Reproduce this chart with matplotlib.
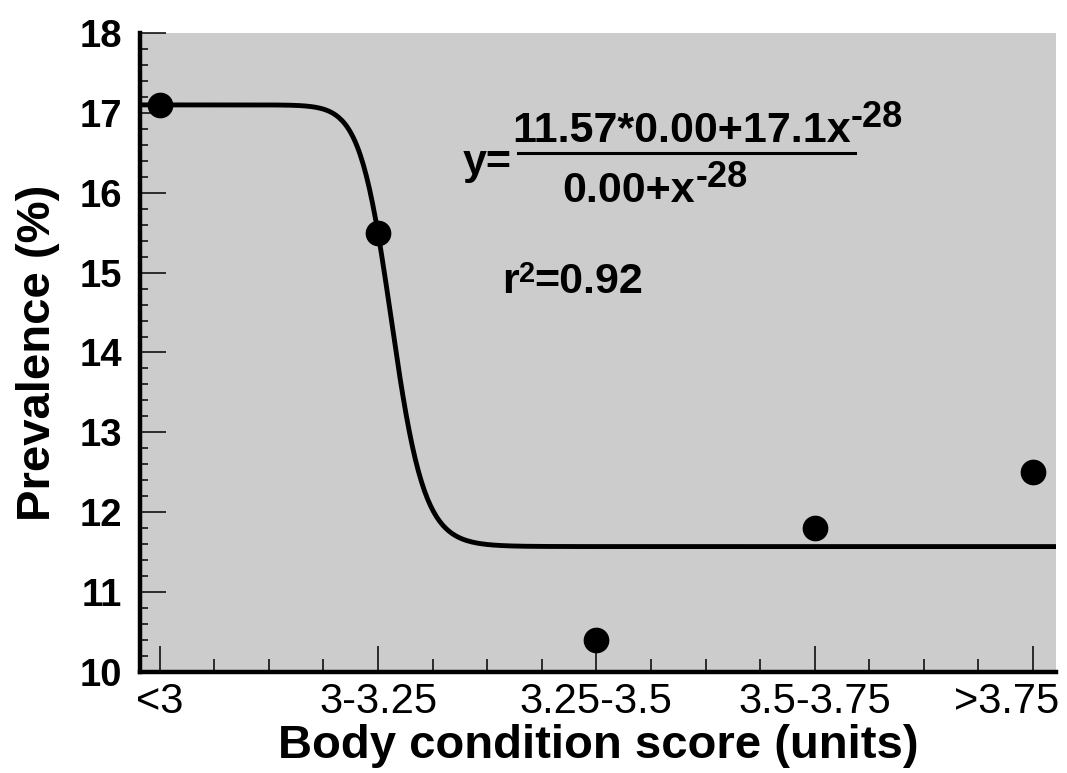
import numpy as np
import matplotlib.pyplot as plt
from matplotlib.ticker import MultipleLocator
from matplotlib.transforms import ScaledTranslation

plt.rcParams['font.family'] = ['Liberation Sans', 'DejaVu Sans']

# dados
categorias = ['<3', '3-3.25', '3.25-3.5', '3.5-3.75', '>3.75']
prevalencia = [17.1, 15.5, 10.4, 11.8, 12.5]

# parâmetros do ajuste (equação mostrada no gráfico)
base = 11.57
topo = 17.1
expoente = -28
meio = 2.065  # posição onde a curva passa pela metade

posicoes = np.arange(1, len(categorias) + 1)

fig = plt.figure(figsize=(10.67, 7.73), dpi=100)
ax = fig.add_axes([0.1312, 0.1307, 0.8585, 0.8266])
ax.set_facecolor('#cccccc')

# curva ajustada
k = meio ** expoente
xs = np.linspace(0.91, 5.105, 600)
ys = (base * k + topo * xs ** expoente) / (k + xs ** expoente)
ax.plot(xs, ys, color='black', lw=3.5, zorder=3)

# pontos observados
ax.plot(posicoes, prevalencia, 'o', color='black', markersize=17.5, zorder=4)

ax.set_xlim(0.91, 5.105)
ax.set_ylim(10, 18)
ax.set_xticks(posicoes)
ax.set_xticklabels(categorias)
ax.xaxis.set_minor_locator(MultipleLocator(0.25))
ax.yaxis.set_major_locator(MultipleLocator(1))
ax.yaxis.set_minor_locator(MultipleLocator(0.2))

for lado in ['top', 'right']:
    ax.spines[lado].set_visible(False)
for lado in ['left', 'bottom']:
    ax.spines[lado].set_linewidth(3.2)

ax.tick_params(which='major', direction='in', length=19, width=1.1, color='black')
ax.tick_params(axis='y', which='minor', direction='in', length=5.5, width=1.1)
ax.tick_params(axis='x', which='minor', direction='in', length=9.5, width=1.1)
ax.tick_params(axis='y', which='major', labelsize=27.5, pad=13)
ax.tick_params(axis='x', which='major', labelsize=30, pad=7)
plt.setp(ax.get_yticklabels(), fontweight='bold')

# o último rótulo fica deslocado para caber na figura
ultimo = ax.get_xticklabels()[-1]
ultimo.set_transform(ultimo.get_transform() + ScaledTranslation(-0.26, 0, fig.dpi_scale_trans))

ax.set_xlabel('Body condition score (units)', fontsize=34, fontweight='bold', va='baseline')
ax.xaxis.set_label_coords(0.5, -0.1346)
ax.set_ylabel('Prevalence (%)', fontsize=34, fontweight='bold', va='baseline')
ax.yaxis.set_label_coords(-0.0983, 0.5)

# equação do ajuste
tam = 31
ax.text(2.388, 16.23, 'y=', fontsize=tam, fontweight='bold', va='baseline')
num = ax.text(2.613, 16.636, '11.57*0.00+17.1x', fontsize=tam, fontweight='bold', va='baseline')
ax.annotate('-28', xy=(1, 16.824), xycoords=(num, 'data'),
            fontsize=26, fontweight='bold', va='baseline', ha='left')
ax.plot([2.640, 4.184], [16.5, 16.5], color='black', lw=2.2)
den = ax.text(2.846, 15.89, '0.00+x', fontsize=tam, fontweight='bold', va='baseline')
ax.annotate('-28', xy=(1, 16.073), xycoords=(den, 'data'),
            fontsize=26, fontweight='bold', va='baseline', ha='left')

r = ax.text(2.567, 14.746, 'r', fontsize=tam, fontweight='bold', va='baseline')
r2 = ax.annotate('2', xy=(1, 14.88), xycoords=(r, 'data'),
                 fontsize=21, fontweight='bold', va='baseline', ha='left')
ax.annotate('=0.92', xy=(1, 14.746), xycoords=(r2, 'data'),
            fontsize=tam, fontweight='bold', va='baseline', ha='left')

plt.savefig('out.png', dpi=100)
